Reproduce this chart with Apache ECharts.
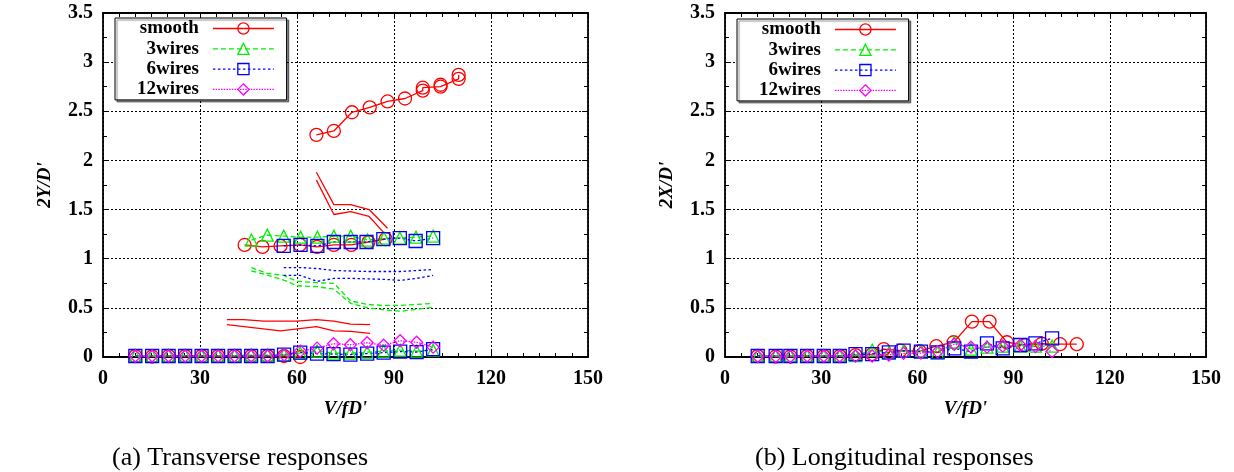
<!DOCTYPE html>
<html>
<head>
<meta charset="utf-8">
<script src="https://cdn.jsdelivr.net/npm/echarts@6/dist/echarts.min.js"></script>
<style>
  html, body { margin: 0; padding: 0; background: #fff; }
  #chart { width: 1234px; height: 472px; }
</style>
</head>
<body>
<div id="chart"></div>
<script>
// ---------- (a) Transverse responses ----------
// low-amplitude branch, shared reduced-velocity stations
const tLowX      = [10, 15.2, 20.3, 25.4, 30.5, 35.6, 40.7, 45.8, 50.9, 56, 61, 66.2, 71.3, 76.5, 81.7, 86.8, 91.9, 97, 102.1];
const tSmoothLowX = [10, 15.2, 20.3, 25.4, 30.5, 35.6, 40.7, 45.8, 50.9, 56, 61];
const tSmoothLowY = [0.01, 0.005, 0.01, 0.01, 0.01, 0.01, 0.01, 0.01, 0.01, 0.01, 0.0];
const t3LowY  = [0.01, 0.01, 0.015, 0.015, 0.01, 0.015, 0.015, 0.02, 0.02, 0.02, 0.04, 0.06, 0.04, 0.04, 0.05, 0.06, 0.07, 0.06, 0.07];
const t6LowY  = [0.01, 0.01, 0.01, 0.01, 0.01, 0.01, 0.01, 0.01, 0.01, 0.025, 0.045, 0.035, 0.03, 0.025, 0.035, 0.045, 0.055, 0.05, 0.08];
const t12LowY = [0.01, 0.01, 0.01, 0.01, 0.01, 0.01, 0.01, 0.01, 0.01, 0.02, 0.06, 0.09, 0.135, 0.125, 0.145, 0.12, 0.165, 0.15, 0.10];

// smooth cylinder: middle and upper branches
const tSmoothMidX = [43.8, 49.3, 54.9, 60.9, 66.2, 71.4, 76.8, 82.1, 87.4];
const tSmoothMidY = [1.14, 1.12, 1.13, 1.14, 1.12, 1.14, 1.14, 1.17, 1.20];
const tSmoothUpX  = [66, 71.4, 77, 82.5, 88, 93.4, 98.9, 98.9, 104.4, 104.4, 110, 110];
const tSmoothUpY  = [2.26, 2.30, 2.49, 2.54, 2.60, 2.63, 2.71, 2.74, 2.75, 2.77, 2.83, 2.87];

// smooth cylinder: amplitude band lines (no markers)
const tSmoothBandAX = [66, 71.4, 76.6, 82.3, 88];
const tSmoothBandAY = [1.88, 1.55, 1.55, 1.50, 1.31];
const tSmoothBandBX = [66, 71.4, 76.6, 82.3, 87];
const tSmoothBandBY = [1.80, 1.45, 1.48, 1.43, 1.26];
const tSmoothBandCX = [38.3, 43.5, 49.7, 60, 66, 71.4, 76.6, 82.6];
const tSmoothBandCY = [0.38, 0.38, 0.365, 0.365, 0.38, 0.365, 0.335, 0.33];
const tSmoothBandDX = [38.3, 54.9, 66, 71.4, 76.6, 82.6];
const tSmoothBandDY = [0.33, 0.265, 0.31, 0.265, 0.26, 0.24];

// 3 wires: upper branch and band lines
const t3MidX = [45.9, 50.8, 55.9, 61.1, 66.3, 71.4, 76.6, 81.8, 86.9, 91.8, 96.8, 102.1];
const t3MidY = [1.19, 1.24, 1.23, 1.22, 1.22, 1.23, 1.23, 1.19, 1.21, 1.21, 1.22, 1.23];
const t3BandX  = [45.9, 50.8, 55.9, 60, 66.3, 71.4, 76.6, 81.8, 86.9, 92.1, 102.1];
const t3BandAY = [0.91, 0.85, 0.83, 0.77, 0.756, 0.75, 0.57, 0.535, 0.525, 0.525, 0.545];
const t3BandBY = [0.875, 0.834, 0.783, 0.725, 0.715, 0.69, 0.546, 0.5, 0.48, 0.465, 0.506];

// 6 wires: upper branch and band lines
const t6MidX = [55.9, 61.1, 66.3, 71.4, 76.6, 81.5, 86.7, 91.8, 96.7, 102.1];
const t6MidY = [1.13, 1.14, 1.13, 1.17, 1.17, 1.17, 1.20, 1.21, 1.18, 1.21];
const t6BandX  = [55.9, 61, 66.3, 71.4, 76.6, 81.8, 86.9, 92, 97, 102.1];
const t6BandAY = [0.91, 0.91, 0.90, 0.88, 0.875, 0.87, 0.87, 0.87, 0.88, 0.89];
const t6BandBY = [0.83, 0.83, 0.77, 0.80, 0.80, 0.795, 0.79, 0.78, 0.80, 0.83];

// ---------- (b) Longitudinal responses ----------
const lX = [10.2, 15.8, 20.4, 25.6, 30.8, 35.8, 40.7, 45.9, 51.1, 55.7, 61.1, 66.3, 71.5, 76.7, 81.7, 86.6, 92.1, 96.8, 102];
const lSmoothX = [10.2, 15.8, 20.4, 25.6, 30.8, 35.8, 40.7, 45.9, 49.5, 54.7, 60.7, 65.9, 71.3, 77.0, 82.5, 87.9, 93.6, 98.8, 104.5, 109.7];
const lSmoothY = [0.01, 0.005, 0.005, 0.01, 0.01, 0.01, 0.02, 0.03, 0.08, 0.065, 0.06, 0.11, 0.15, 0.36, 0.36, 0.15, 0.12, 0.135, 0.13, 0.13];
const l3Y  = [0.01, 0.01, 0.01, 0.01, 0.01, 0.01, 0.015, 0.07, 0.04, 0.06, 0.065, 0.045, 0.15, 0.08, 0.10, 0.11, 0.11, 0.11, 0.11];
const l6Y  = [0.01, 0.01, 0.01, 0.01, 0.01, 0.01, 0.03, 0.03, 0.047, 0.064, 0.054, 0.047, 0.088, 0.054, 0.139, 0.088, 0.122, 0.139, 0.19];
const l12Y = [0.005, 0.005, 0.005, 0.01, 0.01, 0.01, 0.01, 0.01, 0.02, 0.037, 0.04, 0.054, 0.13, 0.10, 0.10, 0.11, 0.12, 0.105, 0.055];

// axis scales
const xMin = 0, xMax = 150, xStep = 30;
const yMin = 0, yMax = 3.5, yStep = 0.5;

const SERIF = '"Liberation Serif", "DejaVu Serif", serif';

const STYLE = {
  'smooth':  { color: '#ff0000', symbol: 'circle',   size: 13, dash: 'solid' },
  '3wires':  { color: '#00f000', symbol: 'triangle', size: 12, dash: [5, 3] },
  '6wires':  { color: '#0000ff', symbol: 'rect',     size: 13, dash: [2.5, 2.5] },
  '12wires': { color: '#ff00ff', symbol: 'diamond',  size: 12, dash: [1.5, 1.2] }
};
const NAMES = ['smooth', '3wires', '6wires', '12wires'];

const pairs = (xs, ys) => xs.map((x, i) => [x, ys[i]]);

function marked(name, g, xs, ys) {
  const s = STYLE[name];
  return {
    type: 'line', name, xAxisIndex: g * 2, yAxisIndex: g * 2,
    data: pairs(xs, ys), color: s.color,
    symbol: s.symbol, symbolSize: s.size, showSymbol: true,
    lineStyle: { color: s.color, width: 1.3, type: s.dash },
    itemStyle: { color: 'rgba(0,0,0,0)', borderColor: s.color, borderWidth: 1.3 },
    emphasis: { disabled: true }, animation: false
  };
}
function plain(name, g, xs, ys) {
  const s = STYLE[name];
  return {
    type: 'line', name, xAxisIndex: g * 2, yAxisIndex: g * 2,
    data: pairs(xs, ys), color: s.color, symbol: 'none', silent: true,
    lineStyle: { color: s.color, width: 1.3, type: s.dash },
    emphasis: { disabled: true }, animation: false, z: 1
  };
}

function xAxes(g, title) {
  const base = {
    type: 'value', gridIndex: g, min: xMin, max: xMax, interval: xStep,
    axisLine: { show: true, onZero: false, lineStyle: { color: '#000', width: 1.8 } },
    axisTick: { show: true, inside: true, length: 6, lineStyle: { color: '#000', width: 1 } },
    minorTick: { show: true, splitNumber: 6, length: 4, lineStyle: { color: '#000', width: 1 } }
  };
  return [
    Object.assign({}, base, {
      position: 'bottom',
      axisLabel: { margin: 12, color: '#000', fontFamily: SERIF, fontWeight: 'bold', fontSize: 20 },
      splitLine: { show: true, lineStyle: { color: '#000', type: [2, 2], width: 1 } },
      name: title, nameLocation: 'middle', nameGap: 43,
      nameTextStyle: { color: '#000', fontFamily: SERIF, fontStyle: 'italic', fontWeight: 'bold', fontSize: 19 }
    }),
    Object.assign({}, base, {
      position: 'top', axisLabel: { show: false }, splitLine: { show: false }
    })
  ];
}
function yAxes(g, title) {
  const base = {
    type: 'value', gridIndex: g, min: yMin, max: yMax, interval: yStep,
    axisLine: { show: true, onZero: false, lineStyle: { color: '#000', width: 1.8 } },
    axisTick: { show: true, inside: true, length: 6, lineStyle: { color: '#000', width: 1 } },
    minorTick: { show: true, splitNumber: 2, length: 4, lineStyle: { color: '#000', width: 1 } }
  };
  return [
    Object.assign({}, base, {
      position: 'left',
      axisLabel: { margin: 10, color: '#000', fontFamily: SERIF, fontWeight: 'bold', fontSize: 20 },
      splitLine: { show: true, lineStyle: { color: '#000', type: [2, 2], width: 1 } },
      name: title, nameLocation: 'middle', nameGap: 48, nameRotate: 90,
      nameTextStyle: { color: '#000', fontFamily: SERIF, fontStyle: 'italic', fontWeight: 'bold', fontSize: 19 }
    }),
    Object.assign({}, base, {
      position: 'right', axisLabel: { show: false }, splitLine: { show: false }
    })
  ];
}

function legendFor(left, top) {
  return {
    left, top, orient: 'vertical', align: 'right',
    itemWidth: 61, itemHeight: 14, itemGap: 1.3,
    padding: [1, 12, 1, 22],
    backgroundColor: '#fff', borderColor: '#000', borderWidth: 1,
    shadowColor: 'rgba(0,0,0,0.45)', shadowOffsetX: 2, shadowOffsetY: 2, shadowBlur: 1,
    selectedMode: false,
    textStyle: { color: '#000', fontFamily: SERIF, fontWeight: 'bold', fontSize: 19, padding: [0, 9, 0, 0] },
    data: NAMES.map(n => ({
      name: n,
      itemStyle: { color: 'rgba(0,0,0,0)', borderColor: STYLE[n].color, borderWidth: 1.3 },
      lineStyle: { color: STYLE[n].color, width: 1.3, type: STYLE[n].dash }
    }))
  };
}

const chart = echarts.init(document.getElementById('chart'), null, { renderer: 'canvas' });

const CAPTION = { color: '#000', fontFamily: SERIF, fontWeight: 'normal', fontSize: 26 };

chart.setOption({
  animation: false,
  backgroundColor: '#fff',
  title: [
    { text: '(a) Transverse responses', left: 112, top: 445, padding: 0, textStyle: CAPTION },
    { text: '(b) Longitudinal responses', left: 755, top: 445, padding: 0, textStyle: CAPTION }
  ],
  legend: [legendFor(115, 18), legendFor(737, 19)],
  grid: [
    { left: 103, top: 13, width: 485, height: 344 },
    { left: 725, top: 13, width: 481, height: 344 }
  ],
  xAxis: [...xAxes(0, "V/fD'"), ...xAxes(1, "V/fD'")],
  yAxis: [...yAxes(0, "2Y/D'"), ...yAxes(1, "2X/D'")],
  series: [
    // transverse: marked branches
    marked('smooth', 0, tSmoothLowX, tSmoothLowY),
    marked('smooth', 0, tSmoothMidX, tSmoothMidY),
    marked('smooth', 0, tSmoothUpX, tSmoothUpY),
    marked('3wires', 0, tLowX, t3LowY),
    marked('3wires', 0, t3MidX, t3MidY),
    marked('6wires', 0, tLowX, t6LowY),
    marked('6wires', 0, t6MidX, t6MidY),
    marked('12wires', 0, tLowX, t12LowY),
    // transverse: band lines
    plain('smooth', 0, tSmoothBandAX, tSmoothBandAY),
    plain('smooth', 0, tSmoothBandBX, tSmoothBandBY),
    plain('smooth', 0, tSmoothBandCX, tSmoothBandCY),
    plain('smooth', 0, tSmoothBandDX, tSmoothBandDY),
    plain('3wires', 0, t3BandX, t3BandAY),
    plain('3wires', 0, t3BandX, t3BandBY),
    plain('6wires', 0, t6BandX, t6BandAY),
    plain('6wires', 0, t6BandX, t6BandBY),
    // longitudinal
    marked('smooth', 1, lSmoothX, lSmoothY),
    marked('3wires', 1, lX, l3Y),
    marked('6wires', 1, lX, l6Y),
    marked('12wires', 1, lX, l12Y)
  ]
});
</script>
</body>
</html>
